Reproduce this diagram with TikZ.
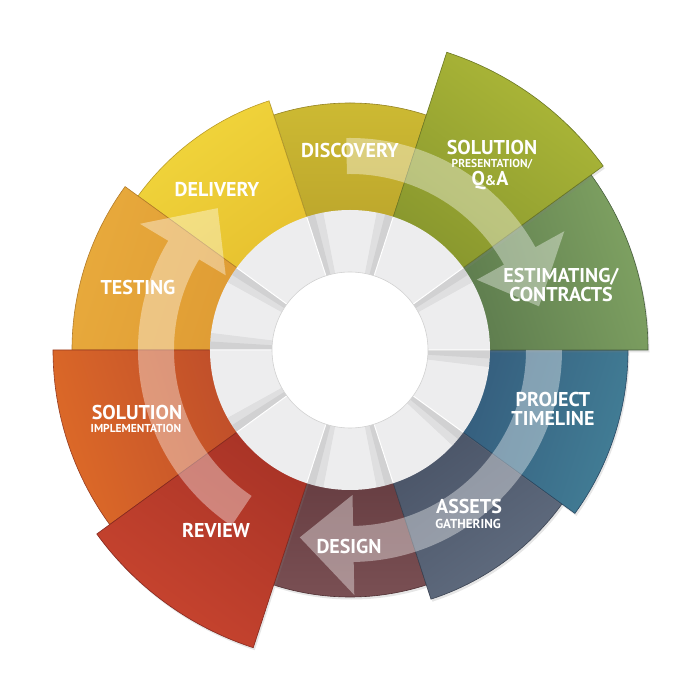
\documentclass[tikz,border=0pt]{standalone}
\usepackage{fontspec}
\setmainfont{PT Sans}
\usetikzlibrary{shadows}

\definecolor{desO}{HTML}{7A5054}\definecolor{desI}{HTML}{62393D}
\definecolor{disO}{HTML}{CDBA33}\definecolor{disI}{HTML}{B9A22A}
\definecolor{assO}{HTML}{616D80}\definecolor{assI}{HTML}{485265}
\definecolor{delO}{HTML}{F1D63C}\definecolor{delI}{HTML}{E6BF2E}
\definecolor{proO}{HTML}{427E96}\definecolor{proI}{HTML}{33597A}
\definecolor{tesO}{HTML}{E8AA3C}\definecolor{tesI}{HTML}{DE9A33}
\definecolor{estO}{HTML}{7FA262}\definecolor{estI}{HTML}{5A784C}
\definecolor{impO}{HTML}{DD6A28}\definecolor{impI}{HTML}{BC4B2A}
\definecolor{preO}{HTML}{ADB838}\definecolor{preI}{HTML}{86952D}
\definecolor{revO}{HTML}{C9452F}\definecolor{revI}{HTML}{A63226}
\definecolor{kolco}{HTML}{EDEDEE}

% сектор: угол1, угол2, внешний радиус, внутренний радиус
\newcommand{\sek}[4]{(#1:#3) arc[start angle=#1, end angle=#2, radius=#3] -- (#2:#4) arc[start angle=#2, end angle=#1, radius=#4] -- cycle}
% стрелка по кругу: начало, основание головки, острие
\newcommand{\strel}[3]{(#1:212) arc[start angle=#1, end angle=#2, radius=212] -- (#2:245) -- (#3:194) -- (#2:145) -- (#2:176) arc[start angle=#2, end angle=#1, radius=176] -- cycle}

\begin{document}
\begin{tikzpicture}[
        x=1pt, y=1pt,
        sektor/.style={line width=0.6pt, drop shadow={opacity=0.2, shadow xshift=1.5pt, shadow yshift=-2.5pt}}, % Цветные сектора
        ten/.style={fill=black, fill opacity=0.06}, % Тени на сером кольце
        strelka/.style={fill=white, fill opacity=0.38},
        title/.style={text=white, anchor=base, font=\fontsize{20}{21}\selectfont\bfseries},
        sub/.style={text=white, anchor=base, font=\fontsize{11.5}{12}\selectfont\bfseries},
    ]
    \useasboundingbox (-350,-350) rectangle (350,350);

    \path[sektor, draw=desI!80!black, top color=desO, bottom color=desI, shading angle=180] \sek{252}{288}{247}{100};
    \path[sektor, draw=disI!80!black, top color=disO, bottom color=disI, shading angle=0] \sek{72}{108}{247}{100};
    \path[sektor, draw=assI!80!black, top color=assO, bottom color=assI, shading angle=216] \sek{288}{324}{262}{100};
    \path[sektor, draw=delI!80!black, top color=delO, bottom color=delI, shading angle=36] \sek{108}{144}{262}{100};
    \path[sektor, draw=proI!80!black, top color=proO, bottom color=proI, shading angle=252] \sek{324}{360}{278}{100};
    \path[sektor, draw=tesI!80!black, top color=tesO, bottom color=tesI, shading angle=72] \sek{144}{180}{278}{100};
    \path[sektor, draw=estI!80!black, top color=estO, bottom color=estI, shading angle=288] \sek{0}{36}{298}{100};
    \path[sektor, draw=impI!80!black, top color=impO, bottom color=impI, shading angle=108] \sek{180}{216}{297}{100};
    \path[sektor, draw=preI!80!black, top color=preO, bottom color=preI, shading angle=324] \sek{36}{72}{313}{100};
    \path[sektor, draw=revI!80!black, top color=revO, bottom color=revI, shading angle=144] \sek{216}{252}{313}{100};

    % серое кольцо
    \fill[kolco] (0,0) circle[radius=140];
    \fill[ten] \sek{-7}{0}{140}{78} \sek{29}{36}{140}{78} \sek{72}{79}{140}{78} \sek{101}{108}{140}{78} \sek{144}{151}{140}{78}
        \sek{173}{180}{140}{78} \sek{209}{216}{140}{78} \sek{252}{259}{140}{78} \sek{281}{288}{140}{78} \sek{317}{324}{140}{78};
    \fill[ten] \sek{-3.5}{0}{140}{78} \sek{32.5}{36}{140}{78} \sek{72}{75.5}{140}{78} \sek{104.5}{108}{140}{78} \sek{144}{147.5}{140}{78}
        \sek{176.5}{180}{140}{78} \sek{212.5}{216}{140}{78} \sek{252}{255.5}{140}{78} \sek{284.5}{288}{140}{78} \sek{320.5}{324}{140}{78};
    \draw[white, line width=1pt] (0:78) -- (0:140) (36:78) -- (36:140) (72:78) -- (72:140) (108:78) -- (108:140) (144:78) -- (144:140)
        (180:78) -- (180:140) (216:78) -- (216:140) (252:78) -- (252:140) (288:78) -- (288:140) (324:78) -- (324:140);
    \draw[fill=white, draw=black!18, line width=0.6pt] (0,0) circle[radius=78];

    % стрелки
    \fill[strelka] \strel{91}{29}{13};
    \fill[strelka] \strel{0}{-89}{-105};
    \fill[strelka] \strel{236}{149}{133};

    % подписи
    \node[title] (discovery) at (0,192) {DISCOVERY};
    \node[title] (solpres) at (142,195) {SOLUTION};
    \node[sub] (presentation) at (142,182) {PRESENTATION/};
    \node[title] (qa) at (140,164) {Q{\fontsize{14}{14}\selectfont\&}A};
    \node[title] (estimating) at (211,67) {ESTIMATING/};
    \node[title] (contracts) at (211,48) {CONTRACTS};
    \node[title] (project) at (203,-57) {PROJECT};
    \node[title] (timeline) at (203,-76) {TIMELINE};
    \node[title] (assets) at (119,-163) {ASSETS};
    \node[sub, font=\fontsize{13}{13}\selectfont\bfseries] (gathering) at (118,-178) {GATHERING};
    \node[title] (design) at (-1,-203) {DESIGN};
    \node[title] (review) at (-134,-187) {REVIEW};
    \node[title] (solimpl) at (-213,-70) {SOLUTION};
    \node[sub] (implementation) at (-214,-83) {IMPLEMENTATION};
    \node[title] (testing) at (-212,55) {TESTING};
    \node[title] (delivery) at (-133,153) {DELIVERY};
\end{tikzpicture}
\end{document}
